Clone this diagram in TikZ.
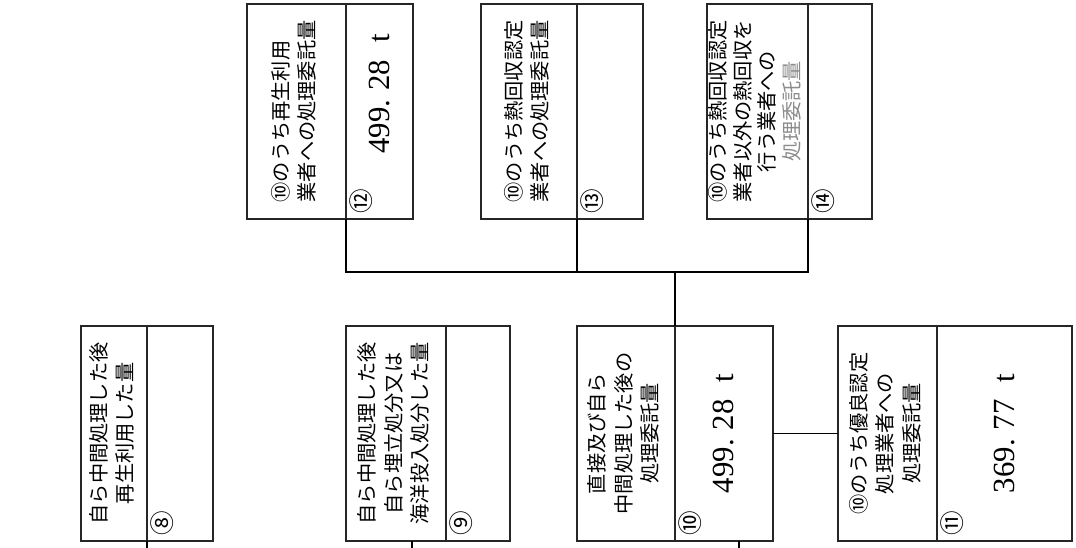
\documentclass[tikz,border=0pt]{standalone}
\usepackage{fontspec}
\usepackage{xcolor}
\usetikzlibrary{positioning}
\newfontfamily\jpfont{Noto Sans CJK JP}
\newfontfamily\numfont{Liberation Serif}

% rotated texts
\newcommand{\vlab}[2][c]{\rotatebox{90}{\jpfont\fontsize{11.5}{15}\selectfont\begin{tabular}{@{}#1@{}}#2\end{tabular}}}
\newcommand{\vnum}[1]{\rotatebox{90}{\numfont\fontsize{17.5}{19}\selectfont #1}}
\newcommand{\cnum}[1]{\rotatebox{90}{\jpfont\fontsize{14}{16}\selectfont #1}}

\begin{document}
\begin{tikzpicture}[
        x=0.02cm, y=-0.02cm,
        line width=1pt,
        part/.style={draw=black!85, rectangle, minimum height=4.3cm, inner sep=0pt, outer sep=0pt},
        num/.style={anchor=south west, inner sep=0pt}]

        \useasboundingbox (0,0) rectangle (1076,548);

        % BOTTOM ROW
        % box 8
        \node[part, minimum width=1.32cm, anchor=north west] (l8) at (81,326) {\vlab{自ら中間処理した後\\再生利用した量}};
        \node[part, minimum width=1.32cm, right=0pt of l8] (v8) {};
        % box 9
        \node[part, minimum width=2cm, anchor=north west] (l9) at (346,326) {\vlab{自ら中間処理した後\\自ら埋立処分又は\\海洋投入処分した量}};
        \node[part, minimum width=1.28cm, right=0pt of l9] (v9) {};
        % box 10
        \node[part, minimum width=1.96cm, anchor=north west] (l10) at (577,326) {\vlab{直接及び自ら\\中間処理した後の\\処理委託量}};
        \node[part, minimum width=1.96cm, right=0pt of l10] (v10) {\vnum{499.\hspace{0.3em}28\hspace{0.55em}t}};
        % box 11
        \node[part, minimum width=1.98cm, anchor=north west] (l11) at (838,326) {\vlab{⑩のうち優良認定\\処理業者への\\処理委託量}};
        \node[part, minimum width=2.7cm, right=0pt of l11] (v11) {\vnum{369.\hspace{0.3em}77\hspace{0.55em}t}};

        % TOP ROW
        % box 12
        \node[part, minimum width=1.98cm, anchor=north west] (l12) at (247,4) {\vlab[l]{⑩のうち再生利用\\業者への処理委託量}};
        \node[part, minimum width=1.34cm, right=0pt of l12] (v12) {\vnum{\hspace{0.7cm}499.\hspace{0.3em}28\hspace{0.55em}t}};
        % box 13
        \node[part, minimum width=1.92cm, anchor=north west] (l13) at (481,4) {\vlab{⑩のうち熱回収認定\\業者への処理委託量}};
        \node[part, minimum width=1.32cm, right=0pt of l13] (v13) {};
        % box 14
        \node[part, minimum width=2.02cm, anchor=north west] (l14) at (707,4) {\renewcommand{\arraystretch}{0.93}\vlab{⑩のうち熱回収認定\\業者以外の熱回収を\\行う業者への\\\textcolor{black!45}{処理委託量}}};
        \node[part, minimum width=1.28cm, right=0pt of l14] (v14) {};

        % NUMBERS
        \node[num] (c8) at ([xshift=0.06cm,yshift=0.1cm]v8.south west) {\cnum{⑧}};
        \node[num] (c9) at ([xshift=0.06cm,yshift=0.1cm]v9.south west) {\cnum{⑨}};
        \node[num] (c10) at ([xshift=0.06cm,yshift=0.1cm]v10.south west) {\cnum{⑩}};
        \node[num] (c11) at ([xshift=0.06cm,yshift=0.1cm]v11.south west) {\cnum{⑪}};
        \node[num] (c12) at ([xshift=0.06cm,yshift=0.1cm]v12.south west) {\cnum{⑫}};
        \node[num] (c13) at ([xshift=0.06cm,yshift=0.1cm]v13.south west) {\cnum{⑬}};
        \node[num] (c14) at ([xshift=0.06cm,yshift=0.1cm]v14.south west) {\cnum{⑭}};

        % LINES
        \draw (l12.south east) -- ++(0,53) -| (l14.south east);
        \draw (l13.south east) -- ++(0,53);
        \draw (l10.north east) -- ++(0,-54);
        \draw (v10.east) -- (l11.west);
        \draw (l8.south east) -- ++(0,7);
        \draw ([xshift=1.32cm]l9.south west) -- ++(0,7);
        \draw ([xshift=1.28cm]v10.south west) -- ++(0,7);
\end{tikzpicture}
\end{document}
